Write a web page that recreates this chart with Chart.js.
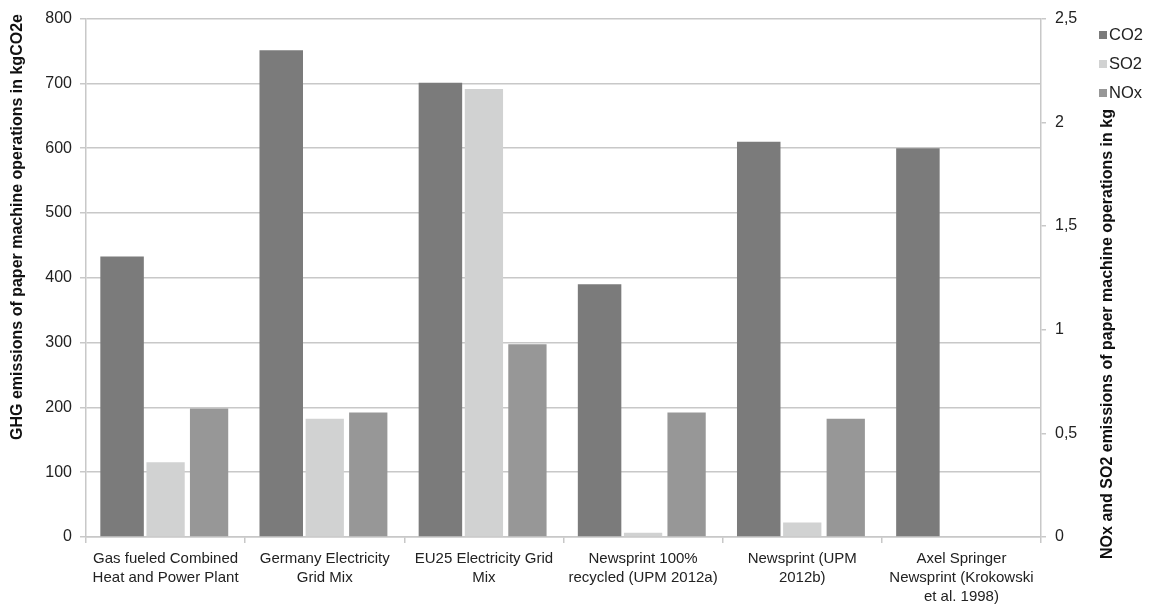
<!DOCTYPE html>
<html>
<head>
<meta charset="utf-8">
<script src="https://cdn.jsdelivr.net/npm/chart.js@4"></script>
<style>
  html, body { margin: 0; padding: 0; background: #ffffff; }
  #wrap { width: 1150px; height: 609px; }
</style>
</head>
<body>
<div id="wrap"><canvas id="c" width="1150" height="609"></canvas></div>
<script>
// Categories (multi-line axis labels)
const categories = [
  ['Gas fueled Combined', 'Heat and Power Plant'],
  ['Germany Electricity', 'Grid Mix'],
  ['EU25 Electricity Grid', 'Mix'],
  ['Newsprint 100%', 'recycled (UPM 2012a)'],
  ['Newsprint (UPM', '2012b)'],
  ['Axel Springer', 'Newsprint (Krokowski', 'et al. 1998)']
];

// GHG emissions, kgCO2e (left axis)
const co2Values = [433, 751, 701, 390, 610, 600];
// SO2 and NOx emissions, kg (right axis)
const so2Values = [0.36, 0.57, 2.16, 0.02, 0.07, null];
const noxValues = [0.62, 0.60, 0.93, 0.60, 0.57, null];

// Axis tick values
const leftTicks = [0, 100, 200, 300, 400, 500, 600, 700, 800];
const rightTicks = [0, 0.5, 1, 1.5, 2, 2.5];

const seriesNames = ['CO2', 'SO2', 'NOx'];
const seriesColors = ['#7b7b7b', '#d1d2d2', '#979797'];

const leftTitle = 'GHG emissions of paper machine operations in kgCO2e';
const rightTitle = 'NOx and SO2 emissions of paper machine operations in kg';

const FONT = '"Liberation Sans", Arial, Helvetica, sans-serif';
const TEXT = '#222222';
const GRID = '#c8c8c8';

// Axis titles and legend drawn on the canvas
const decorations = {
  id: 'decorations',
  afterDraw(chart) {
    const ctx = chart.ctx;
    ctx.save();
    ctx.fillStyle = '#111111';
    ctx.font = 'bold 16px ' + FONT;
    ctx.textAlign = 'center';
    ctx.textBaseline = 'middle';

    // left axis title (reads bottom to top)
    ctx.save();
    ctx.translate(18, 227);
    ctx.rotate(-Math.PI / 2);
    ctx.fillText(leftTitle, 0, 0);
    ctx.restore();

    // right axis title (reads bottom to top)
    ctx.save();
    ctx.translate(1108, 334);
    ctx.rotate(-Math.PI / 2);
    ctx.fillText(rightTitle, 0, 0);
    ctx.restore();

    // legend
    ctx.font = '16.5px ' + FONT;
    ctx.textAlign = 'left';
    chart.data.datasets.forEach((ds, i) => {
      const y = 35 + i * 29;
      ctx.fillStyle = ds.backgroundColor;
      ctx.fillRect(1099, y - 4, 8, 8);
      ctx.fillStyle = TEXT;
      ctx.fillText(ds.label, 1109, y);
    });
    ctx.restore();
  }
};

new Chart(document.getElementById('c'), {
  type: 'bar',
  data: {
    labels: categories,
    datasets: [
      { label: seriesNames[0], data: co2Values, yAxisID: 'y',
        backgroundColor: seriesColors[0], barPercentage: 1.0 },
      { label: seriesNames[1], data: so2Values, yAxisID: 'y1',
        backgroundColor: seriesColors[1], barPercentage: 0.88 },
      { label: seriesNames[2], data: noxValues, yAxisID: 'y1',
        backgroundColor: seriesColors[2], barPercentage: 0.88 }
    ]
  },
  plugins: [decorations],
  options: {
    responsive: false,
    animation: false,
    devicePixelRatio: 1,
    categoryPercentage: 0.82,
    layout: { padding: { top: 18, left: 0, right: 0, bottom: 0 } },
    plugins: {
      legend: { display: false },
      tooltip: { enabled: false }
    },
    scales: {
      x: {
        offset: true,
        afterFit(s) { s.height = 72; },
        grid: { offset: true, drawOnChartArea: false, tickLength: 6, color: GRID, lineWidth: 1.5 },
        border: { display: true, color: GRID, width: 1.5 },
        ticks: {
          maxRotation: 0, minRotation: 0, autoSkip: false, padding: 6,
          color: TEXT, font: { family: FONT, size: 15, lineHeight: 1.27 }
        }
      },
      y: {
        position: 'left',
        min: 0, max: 800,
        afterFit(s) { s.width = 86; },
        afterBuildTicks(s) { s.ticks = leftTicks.map(v => ({ value: v })); },
        grid: { color: GRID, lineWidth: 1.5, tickLength: 6 },
        border: { display: true, color: GRID, width: 1.5 },
        ticks: { padding: 8, color: TEXT, font: { family: FONT, size: 16 } }
      },
      y1: {
        position: 'right',
        min: 0, max: 2.5,
        afterFit(s) { s.width = 109; },
        afterBuildTicks(s) { s.ticks = rightTicks.map(v => ({ value: v })); },
        grid: { drawOnChartArea: false, color: GRID, lineWidth: 1.5, tickLength: 5 },
        border: { display: true, color: GRID, width: 1.5 },
        ticks: {
          padding: 9, color: TEXT, font: { family: FONT, size: 16 },
          callback: v => String(v).replace('.', ',')
        }
      }
    }
  }
});
</script>
</body>
</html>
